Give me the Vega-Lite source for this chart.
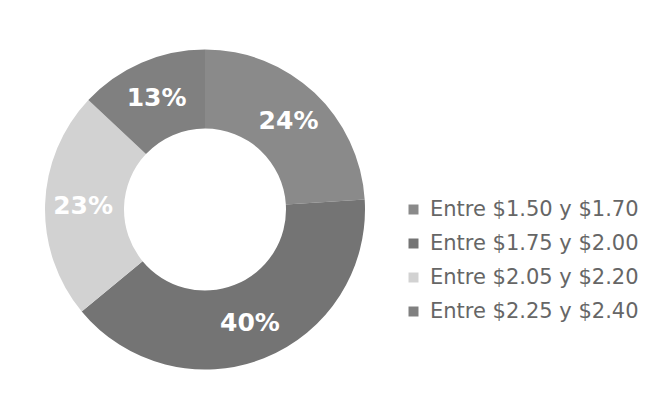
{
  "$schema": "https://vega.github.io/schema/vega-lite/v6.json",
  "width": 386,
  "height": 371,
  "autosize": {"type": "none"},
  "padding": {"left": 12, "top": 24, "right": 258, "bottom": 0},
  "background": "white",
  "config": {"view": {"stroke": null}},
  "data": {
    "values": [
      {"rango": "Entre $1.50 y $1.70", "porcentaje": 24, "etiqueta": "24%"},
      {"rango": "Entre $1.75 y $2.00", "porcentaje": 40, "etiqueta": "40%"},
      {"rango": "Entre $2.05 y $2.20", "porcentaje": 23, "etiqueta": "23%"},
      {"rango": "Entre $2.25 y $2.40", "porcentaje": 13, "etiqueta": "13%"}
    ]
  },
  "encoding": {
    "theta": {"field": "porcentaje", "type": "quantitative", "stack": true},
    "order": {"field": "rango", "type": "ordinal", "sort": "ascending"}
  },
  "layer": [
    {
      "mark": {"type": "arc", "outerRadius": 160, "innerRadius": 81},
      "encoding": {
        "color": {
          "field": "rango",
          "type": "nominal",
          "scale": {
            "domain": ["Entre $1.50 y $1.70", "Entre $1.75 y $2.00", "Entre $2.05 y $2.20", "Entre $2.25 y $2.40"],
            "range": ["#8a8a8a", "#747474", "#d2d2d2", "#808080"]
          },
          "legend": {
            "orient": "none",
            "legendX": 391,
            "legendY": 175,
            "title": null,
            "symbolType": "square",
            "symbolSize": 100,
            "symbolStrokeWidth": 0,
            "labelFont": "DejaVu Sans",
            "labelFontSize": 21,
            "labelColor": "#666666",
            "labelOffset": 6,
            "labelLimit": 400,
            "rowPadding": 12
          }
        }
      }
    },
    {
      "mark": {"type": "text", "radius": 122, "font": "DejaVu Sans", "fontSize": 25, "fontWeight": "bold", "fill": "white"},
      "encoding": {
        "text": {"field": "etiqueta", "type": "nominal"},
        "detail": {"field": "rango", "type": "nominal"}
      }
    }
  ]
}
